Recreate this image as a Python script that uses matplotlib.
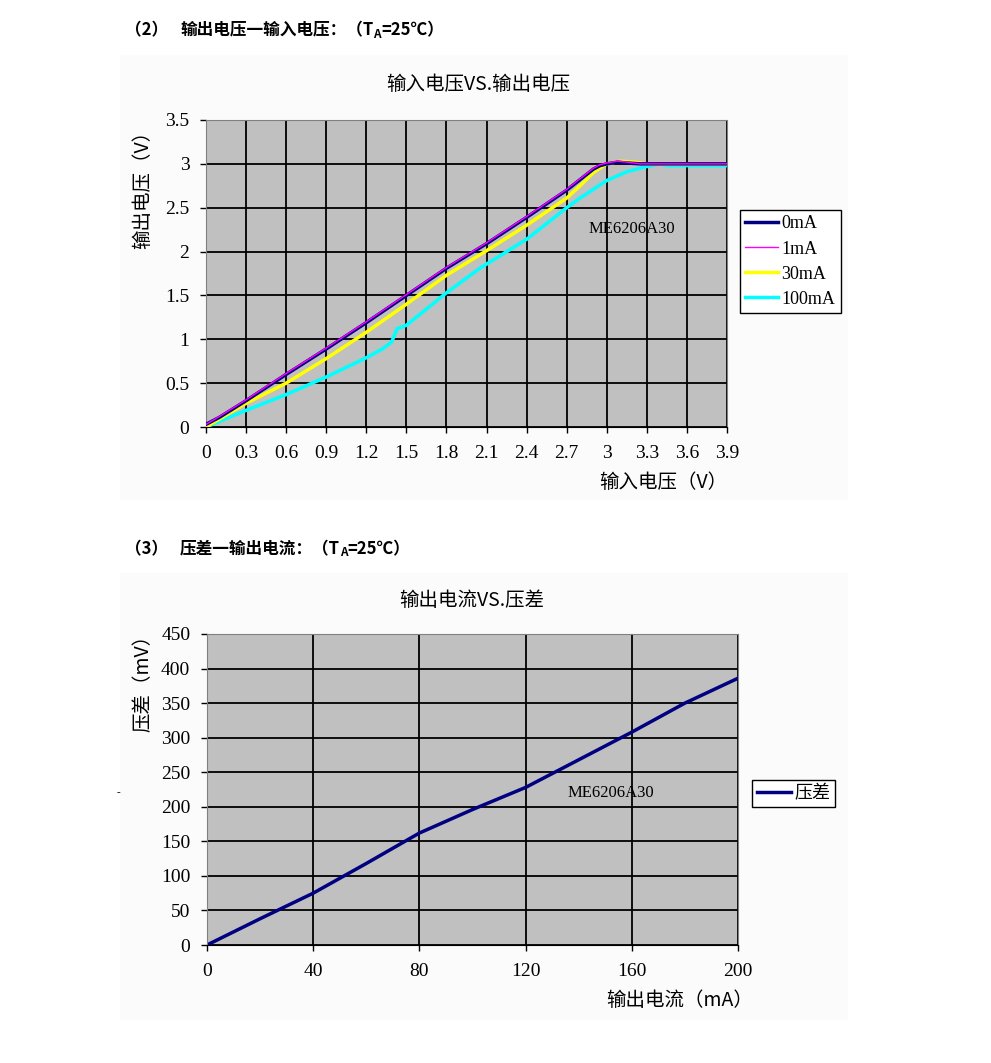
import matplotlib
matplotlib.use('Agg')
import matplotlib.pyplot as plt
from matplotlib.patches import Rectangle

# ---- data ----
vin_0ma = [0, 0.1, 0.3, 0.6, 0.9, 1.2, 1.5, 1.8, 2.1, 2.4, 2.7, 2.8, 2.9, 2.95, 3.0, 3.08, 3.15, 3.25, 3.3, 3.6, 3.9]
vout_0ma = [0.03, 0.11, 0.3, 0.6, 0.89, 1.19, 1.5, 1.81, 2.09, 2.39, 2.7, 2.82, 2.94, 2.98, 3.0, 3.02, 3.01, 3.0, 3.0, 3.0, 3.0]

vin_1ma = [0, 0.1, 0.3, 0.6, 0.9, 1.2, 1.5, 1.8, 2.1, 2.4, 2.7, 2.8, 2.9, 2.95, 3.0, 3.08, 3.15, 3.25, 3.3, 3.6, 3.9]
vout_1ma = [0.03, 0.12, 0.31, 0.61, 0.9, 1.2, 1.51, 1.82, 2.1, 2.4, 2.71, 2.83, 2.95, 2.99, 3.01, 3.03, 3.02, 3.0, 3.0, 3.0, 3.0]

vin_30ma = [0, 0.3, 0.6, 0.9, 1.2, 1.5, 1.8, 2.1, 2.4, 2.7, 2.8, 2.9, 3.0, 3.1, 3.2, 3.3, 3.6, 3.9]
vout_30ma = [0.0, 0.27, 0.5, 0.78, 1.08, 1.4, 1.73, 2.01, 2.3, 2.61, 2.75, 2.9, 3.0, 3.03, 3.02, 3.0, 3.0, 3.0]

vin_100ma = [0, 0.3, 0.6, 0.9, 1.2, 1.32, 1.39, 1.43, 1.5, 1.8, 2.05, 2.4, 2.7, 2.8, 3.0, 3.15, 3.3, 3.4, 3.45, 3.6, 3.9]
vout_100ma = [0.0, 0.19, 0.37, 0.57, 0.79, 0.89, 0.97, 1.12, 1.16, 1.53, 1.81, 2.14, 2.5, 2.61, 2.81, 2.91, 2.97, 3.0, 2.98, 2.98, 2.98]

iout = [0, 20, 40, 60, 80, 100, 120, 140, 160, 180, 200]
dropout = [0, 38, 75, 118, 162, 196, 228, 268, 308, 350, 386]

W, H = 991, 1063
fig = plt.figure(figsize=(W / 100, H / 100), dpi=100)
plt.rcParams['font.family'] = ['Liberation Serif', 'Noto Sans CJK SC', 'DejaVu Sans']
cjk = ['Noto Sans CJK SC', 'DejaVu Sans']


def fx(px):
    return px / W


def fy(py):
    return 1 - py / H


def header(py, num, before, after):
    r = fig.canvas.get_renderer()
    fig.text(fx(125), fy(py), num, fontsize=12, fontweight='bold', family=cjk, va='center')
    t = fig.text(fx(180), fy(py), before, fontsize=12, fontweight='bold', family=cjk, va='center')
    x = 180 + t.get_window_extent(r).width
    s = fig.text(fx(x), fy(py + 4), 'A', fontsize=8.5, fontweight='bold', family=cjk, va='center')
    x += s.get_window_extent(r).width
    fig.text(fx(x), fy(py), after, fontsize=12, fontweight='bold', family=cjk, va='center')


def style_axes(ax):
    ax.set_facecolor('#c0c0c0')
    ax.grid(True, color='black', linewidth=1.3)
    ax.set_axisbelow(True)
    for side in ['left', 'top', 'right']:
        ax.spines[side].set_color('#808080')
    ax.spines['bottom'].set_color('black')
    ax.tick_params(length=4, width=1, labelsize=14)
    ax.tick_params(axis='y', pad=8)
    ax.tick_params(axis='x', pad=9)


# faint chart-area backgrounds
fig.add_artist(Rectangle((fx(120), fy(500)), fx(848) - fx(120), fy(55) - fy(500),
                         transform=fig.transFigure, facecolor='#fbfbfb', edgecolor='none', zorder=0))
fig.add_artist(Rectangle((fx(120), fy(1020)), fx(848) - fx(120), fy(573) - fy(1020),
                         transform=fig.transFigure, facecolor='#fbfbfb', edgecolor='none', zorder=0))

header(30, '（2）', '输出电压一输入电压：（T', '=25℃）')
header(549, '（3）', '压差一输出电流：（T', '=25℃）')

# ---- top chart ----
ax1 = fig.add_axes([fx(206), fy(427), fx(727) - fx(206), fy(120) - fy(427)])
style_axes(ax1)
ax1.plot(vin_100ma, vout_100ma, color='#00ffff', linewidth=2.5, label='100mA', zorder=3)
ax1.plot(vin_30ma, vout_30ma, color='#ffff00', linewidth=2.5, label='30mA', zorder=4)
ax1.plot(vin_0ma, vout_0ma, color='#000080', linewidth=2.5, label='0mA', zorder=5)
ax1.plot(vin_1ma, vout_1ma, color='#ff00ff', linewidth=1, label='1mA', zorder=6)
ax1.set_xlim(0, 3.9)
ax1.set_ylim(0, 3.5)
ax1.set_xticks([0, 0.3, 0.6, 0.9, 1.2, 1.5, 1.8, 2.1, 2.4, 2.7, 3.0, 3.3, 3.6, 3.9])
ax1.set_xticklabels(['0', '0.3', '0.6', '0.9', '1.2', '1.5', '1.8', '2.1', '2.4', '2.7', '3', '3.3', '3.6', '3.9'])
ax1.set_yticks([0, 0.5, 1, 1.5, 2, 2.5, 3, 3.5])
ax1.set_yticklabels(['0', '0.5', '1', '1.5', '2', '2.5', '3', '3.5'])
ax1.text(3.19, 2.26, 'ME6206A30', fontsize=12, ha='center', va='center')
h, l = ax1.get_legend_handles_labels()
order = [2, 3, 1, 0]
ax1.legend([h[i] for i in order], [l[i] for i in order], loc='upper left',
           bbox_to_anchor=(fx(740), fy(210)), bbox_transform=fig.transFigure,
           fontsize=13, frameon=True, fancybox=False, edgecolor='black', framealpha=1,
           handlelength=1.8, handletextpad=0.2, labelspacing=0.45, borderpad=0.3, borderaxespad=0)

fig.text(fx(478), fy(85), '输入电压VS.输出电压', fontsize=14, family=cjk, ha='center', va='center')
fig.text(fx(663), fy(483), '输入电压（V）', fontsize=14, family=cjk, ha='center', va='center')
fig.text(fx(143), fy(185), '输出电压（V）', fontsize=14, family=cjk, ha='center', va='center', rotation=90)

# ---- bottom chart ----
ax2 = fig.add_axes([fx(207), fy(945), fx(738) - fx(207), fy(634) - fy(945)])
style_axes(ax2)
ax2.plot(iout, dropout, color='#000080', linewidth=2.5, label='压差')
ax2.set_xlim(0, 200)
ax2.set_ylim(0, 450)
ax2.set_xticks([0, 40, 80, 120, 160, 200])
ax2.set_yticks(range(0, 451, 50))
ax2.text(152, 220, 'ME6206A30', fontsize=12, ha='center', va='center')
leg2 = ax2.legend(loc='upper left', bbox_to_anchor=(fx(752), fy(780)), bbox_transform=fig.transFigure,
                  fontsize=13, frameon=True, fancybox=False, edgecolor='black', framealpha=1,
                  handlelength=1.9, handletextpad=0.2, borderpad=0.25, borderaxespad=0)
for t in leg2.get_texts():
    t.set_family(cjk)

fig.text(fx(472), fy(601), '输出电流VS.压差', fontsize=14, family=cjk, ha='center', va='center')
fig.text(fx(680), fy(1001), '输出电流（mA）', fontsize=14, family=cjk, ha='center', va='center')
fig.text(fx(143), fy(678), '压差（mV）', fontsize=14, family=cjk, ha='center', va='center', rotation=90)
fig.text(fx(118), fy(793), '-', fontsize=8, ha='center', va='center')

fig.savefig('out.png', dpi=100)
